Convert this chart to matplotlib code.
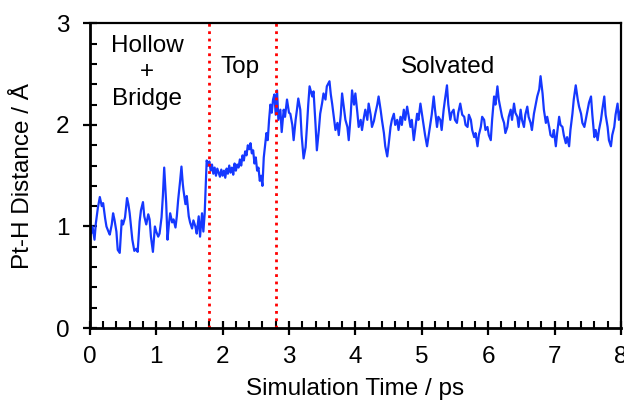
import matplotlib.pyplot as plt
from matplotlib.ticker import MultipleLocator

plt.rcParams['font.family'] = ['Liberation Sans', 'DejaVu Sans']

# Pt-H distance (time in ps, distance in Angstrom)
t_hollow = [0.00, 0.02, 0.04, 0.07, 0.09, 0.12, 0.15, 0.18, 0.20, 0.23, 0.25, 0.28,
            0.30, 0.33, 0.35, 0.37, 0.40, 0.42, 0.45, 0.48, 0.50, 0.53, 0.56, 0.58,
            0.60, 0.62, 0.64, 0.67, 0.70, 0.72, 0.75, 0.77, 0.80, 0.82, 0.85, 0.88,
            0.90, 0.92, 0.95, 0.98, 1.00, 1.03, 1.05, 1.08, 1.10, 1.12, 1.15, 1.17,
            1.19, 1.21, 1.24, 1.26, 1.29, 1.31, 1.33, 1.36, 1.38, 1.40, 1.41, 1.44,
            1.46, 1.49, 1.51, 1.54, 1.56, 1.59, 1.61, 1.64, 1.66, 1.69, 1.71, 1.73,
            1.75]
d_hollow = [0.98, 0.93, 1.00, 0.87, 1.03, 1.18, 1.29, 1.20, 1.23, 1.08, 1.00, 0.95,
            0.92, 1.02, 1.13, 1.07, 0.95, 0.77, 0.74, 1.06, 1.02, 1.09, 1.28, 1.22,
            1.13, 1.00, 0.87, 0.76, 0.78, 0.75, 1.05, 1.16, 1.24, 1.10, 1.02, 1.12,
            1.07, 0.90, 0.75, 1.00, 0.95, 0.90, 0.93, 1.09, 1.30, 1.58, 1.23, 0.87,
            1.02, 1.13, 1.04, 1.07, 0.99, 1.10, 1.26, 1.45, 1.59, 1.42, 1.36, 1.22,
            1.30, 1.10, 1.04, 0.98, 1.06, 1.00, 0.93, 1.10, 0.90, 1.13, 0.95, 1.13,
            1.46]
t_top = [1.76, 1.78, 1.80, 1.82, 1.84, 1.86, 1.88, 1.90, 1.92, 1.94, 1.96, 1.98,
         2.00, 2.02, 2.04, 2.06, 2.08, 2.10, 2.12, 2.14, 2.16, 2.18, 2.20, 2.22,
         2.24, 2.26, 2.28, 2.30, 2.32, 2.34, 2.36, 2.38, 2.40, 2.42, 2.44, 2.46,
         2.48, 2.50, 2.52, 2.54, 2.56, 2.58, 2.60, 2.62, 2.64, 2.66, 2.68, 2.70,
         2.72, 2.74, 2.76]
d_top = [1.65, 1.60, 1.64, 1.55, 1.61, 1.52, 1.58, 1.50, 1.57, 1.53, 1.49, 1.56,
         1.50, 1.55, 1.48, 1.57, 1.52, 1.60, 1.53, 1.58, 1.51, 1.62, 1.55, 1.61,
         1.58, 1.66, 1.60, 1.70, 1.65, 1.74, 1.70, 1.80, 1.76, 1.82, 1.72, 1.75,
         1.62, 1.68, 1.55, 1.58, 1.45, 1.50, 1.40, 1.68, 1.80, 1.92, 1.85, 2.05,
         2.20, 2.12, 2.25]
t_solv = [2.78, 2.80, 2.82, 2.84, 2.87, 2.89, 2.92, 2.94, 2.97, 3.00, 3.02, 3.05,
          3.07, 3.10, 3.12, 3.14, 3.17, 3.19, 3.22, 3.25, 3.27, 3.29, 3.31, 3.35,
          3.37, 3.40, 3.42, 3.45, 3.47, 3.50, 3.52, 3.55, 3.57, 3.61, 3.63, 3.65,
          3.68, 3.70, 3.73, 3.75, 3.78, 3.80, 3.83, 3.85, 3.88, 3.90, 3.93, 3.95,
          3.98, 4.00, 4.03, 4.05, 4.08, 4.10, 4.13, 4.15, 4.18, 4.20, 4.23, 4.25,
          4.28, 4.30, 4.33, 4.35, 4.38, 4.40, 4.43, 4.45, 4.48, 4.50, 4.53, 4.55,
          4.58, 4.60, 4.63, 4.65, 4.68, 4.70, 4.73, 4.75, 4.78, 4.80, 4.83, 4.85,
          4.88, 4.90, 4.93, 4.95, 4.98, 5.00, 5.03, 5.05, 5.08, 5.10, 5.13, 5.15,
          5.18, 5.20, 5.23, 5.25, 5.28, 5.30, 5.33, 5.35, 5.38, 5.40, 5.43, 5.45,
          5.48, 5.50, 5.53, 5.55, 5.58, 5.61, 5.64, 5.66, 5.69, 5.71, 5.74, 5.76,
          5.79, 5.81, 5.84, 5.86, 5.89, 5.91, 5.94, 5.96, 5.99, 6.01, 6.04, 6.06,
          6.09, 6.11, 6.14, 6.16, 6.19, 6.21, 6.24, 6.26, 6.29, 6.31, 6.34, 6.36,
          6.39, 6.41, 6.44, 6.46, 6.49, 6.51, 6.54, 6.56, 6.59, 6.61, 6.64, 6.66,
          6.69, 6.71, 6.74, 6.77, 6.79, 6.82, 6.84, 6.87, 6.89, 6.92, 6.94, 6.97,
          6.99, 7.02, 7.04, 7.07, 7.09, 7.12, 7.14, 7.17, 7.19, 7.22, 7.24, 7.27,
          7.29, 7.32, 7.35, 7.37, 7.40, 7.42, 7.45, 7.47, 7.50, 7.52, 7.55, 7.57,
          7.60, 7.62, 7.65, 7.67, 7.70, 7.72, 7.75, 7.77, 7.80, 7.82, 7.85, 7.87,
          7.90, 7.92, 7.95, 7.97, 8.00]
d_solv = [2.30, 2.10, 2.34, 2.05, 2.15, 1.93, 2.15, 2.08, 2.25, 2.12, 2.11, 2.00,
          1.85, 2.05, 2.15, 2.26, 2.15, 1.90, 1.67, 1.78, 1.98, 2.20, 2.38, 2.28,
          2.33, 2.00, 1.75, 1.95, 2.11, 2.22, 2.31, 2.25, 2.38, 2.43, 2.30, 2.21,
          2.05, 1.95, 2.02, 1.90, 2.10, 2.31, 2.15, 2.05, 1.98, 1.85, 2.10, 2.34,
          2.20, 2.31, 2.12, 1.98, 2.05, 1.95, 2.08, 2.15, 2.05, 2.21, 2.10, 1.98,
          2.04, 2.11, 2.20, 2.28, 2.15, 2.05, 1.92, 1.79, 1.69, 1.80, 1.98, 2.05,
          2.11, 2.00, 2.05, 1.95, 2.08, 2.00, 2.15, 2.05, 2.18, 2.10, 1.98, 2.05,
          1.85, 1.95, 2.11, 2.05, 2.21, 2.12, 1.98, 1.90, 1.79, 1.88, 2.02, 2.10,
          2.28, 2.15, 1.98, 2.08, 2.05, 1.95, 2.15, 2.25, 2.39, 2.20, 2.05, 2.12,
          2.15, 2.05, 2.02, 2.12, 2.21, 2.10, 2.08, 2.00, 1.98, 2.10, 2.05, 1.95,
          1.88, 1.92, 1.79, 1.90, 1.98, 2.08, 2.05, 1.95, 1.98, 1.90, 1.85, 2.05,
          2.28, 2.20, 2.38, 2.25, 2.15, 2.08, 2.02, 1.92, 1.98, 2.08, 2.15, 2.05,
          2.21, 2.12, 2.08, 1.98, 2.15, 2.05, 1.98, 2.10, 2.18, 2.08, 2.02, 1.95,
          2.11, 2.18, 2.28, 2.35, 2.48, 2.31, 2.15, 2.02, 2.08, 1.98, 1.90, 1.88,
          1.95, 1.79, 1.92, 2.08, 2.00, 1.98, 1.90, 1.82, 1.88, 1.79, 1.95, 2.11,
          2.25, 2.39, 2.25, 2.18, 2.11, 2.02, 1.98, 2.05, 2.15, 2.22, 2.28, 2.10,
          1.88, 1.95, 1.85, 1.95, 2.05, 2.15, 2.28, 2.10, 1.98, 1.85, 1.79, 1.90,
          1.98, 2.10, 2.21, 2.05, 2.15]

time = t_hollow + t_top + t_solv
dist = d_hollow + d_top + d_solv

boundaries = [1.8, 2.8]
labels = ['Hollow\n+\nBridge', 'Top', 'Solvated']
label_x = [0.86, 2.26, 5.39]
label_y = [2.89, 2.57, 2.57]

fig = plt.figure(figsize=(6.24, 4.03), dpi=100)
ax = fig.add_axes([0.144, 0.186, 0.851, 0.756])

ax.plot(time, dist, color='#1538ff', lw=1.6)
for b in boundaries:
    ax.plot([b, b], [0, 3], color='red', ls=':', lw=2)

fs = 17.5
ax.text(label_x[0], label_y[0], labels[0], ha='center', va='top', fontsize=fs, linespacing=1.28)
ax.text(label_x[1], label_y[1], labels[1], ha='center', va='center', fontsize=fs)
ax.text(label_x[2], label_y[2], labels[2], ha='center', va='center', fontsize=fs)

ax.set_xlim(0, 8)
ax.set_ylim(0, 3)
ax.xaxis.set_major_locator(MultipleLocator(1))
ax.xaxis.set_minor_locator(MultipleLocator(0.2))
ax.yaxis.set_major_locator(MultipleLocator(1))
ax.yaxis.set_minor_locator(MultipleLocator(0.2))
ax.tick_params(which='major', direction='inout', length=9.5, width=1.6, labelsize=fs)
ax.tick_params(axis='x', which='major', pad=8)
ax.tick_params(axis='y', which='major', pad=10)
ax.tick_params(which='minor', direction='in', length=5, width=1.5)
for s in ax.spines.values():
    s.set_linewidth(1.6)
ax.spines['left'].set_linewidth(2)
ax.spines['bottom'].set_linewidth(2)

ax.set_xlabel('Simulation Time / ps', fontsize=fs)
ax.set_ylabel('Pt-H Distance / Å', fontsize=fs)
ax.xaxis.set_label_coords(0.5, -0.165)
ax.xaxis.label.set_va('top')
ax.yaxis.set_label_coords(-0.105, 0.5)

fig.savefig('out.png', dpi=100)
